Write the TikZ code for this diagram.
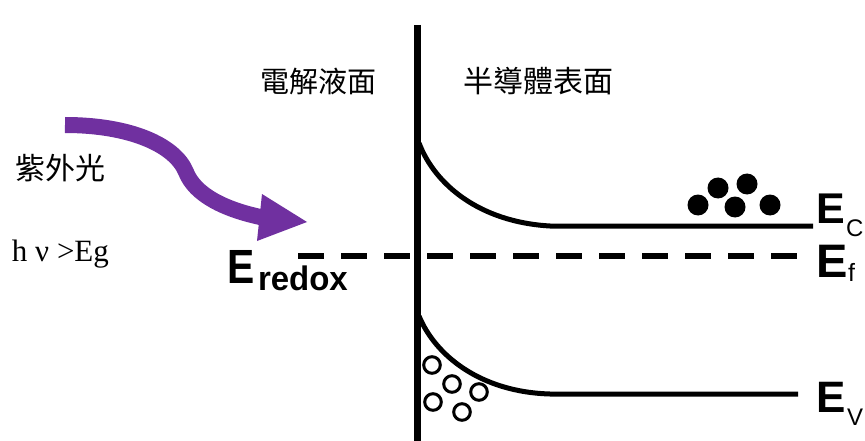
\documentclass[tikz,border=0pt]{standalone}
\usepackage{graphicx}
\usepackage{fontspec}
\setmainfont{Liberation Serif}
\newfontfamily\cjk{Noto Sans CJK TC}
\newfontfamily\arial{Liberation Sans}
\definecolor{uvpurple}{RGB}{112,48,160}
\begin{document}
\begin{tikzpicture}[x=1pt,y=-1pt,
  band/.style={line width=5pt},
  lbl/.style={inner sep=0pt, outer sep=0pt},
  bigE/.style={lbl, anchor=base west, font=\arial\bfseries\fontsize{#1}{#1}\selectfont},
  subE/.style={lbl, anchor=base west, font=\arial\fontsize{#1}{#1}\selectfont},
  electron/.style={fill=black},
  hole/.style={draw=black, line width=3pt},
  cjklbl/.style={lbl, font=\cjk\fontsize{#1}{#1}\selectfont}]
\clip (0,0) rectangle (865,441);
\fill[white] (0,0) rectangle (865,441);

% interface line
\coordinate (vtop) at (417,25);
\coordinate (vbot) at (417,445);
\draw[line width=7pt] (vtop) -- (vbot);

% conduction band
\coordinate (ecs) at (419,143);
\coordinate (ecf) at (550,226);
\coordinate (ece) at (813,226);
\draw[band] (ecs) .. controls (435,185) and (480,222) .. (ecf) -- (ece);

% valence band
\coordinate (evs) at (419,316);
\coordinate (evf) at (550,394);
\coordinate (eve) at (798,394);
\draw[band] (evs) .. controls (435,355) and (480,392) .. (evf) -- (eve);

% Fermi / redox level
\coordinate (efs) at (298,256);
\coordinate (efe) at (800,256);
\draw[line width=6pt, dash pattern=on 26pt off 17pt] (efs) -- (efe);

% electrons
\foreach \p in {(698,205),(718,188),(747,184),(735,207),(770,205)}
  \fill[electron] \p circle[radius=10.5pt];

% holes
\foreach \p in {(432,365),(452,384),(433,402),(462,412),(479,392)}
  \draw[hole] \p circle[radius=8.3pt];

% UV arrow
\coordinate (uvs) at (65,125);
\coordinate (uve) at (265,218);
\draw[uvpurple, line width=16pt] (uvs) .. controls (130,125) and (175,145) .. (186,172)
  .. controls (195,195) and (225,210) .. (uve);
\fill[uvpurple] (262,194) -- (307,222) -- (257,241) -- cycle;

% labels
\node[cjklbl=29] (elec) at (318,81) {電解液面};
\node[cjklbl=30] (semi) at (538,81) {半導體表面};
\node[cjklbl=30] (uv) at (61,168) {紫外光};
\node[lbl, anchor=base west, font=\fontsize{31}{31}\selectfont] (hv) at (12,261) {h ν >Eg};

\node[bigE=43] (Ec) at (816,223) {E};
\node[subE=24] (Ecsub) at (846,236) {C};
\node[bigE=47] (Ef) at (816,277) {E};
\node[subE=25] (Efsub) at (848,281) {f};
\node[bigE=44] (Ev) at (816,412) {E};
\node[subE=24] (Evsub) at (847,425) {V};

\node[lbl, anchor=base west, font=\arial\bfseries\fontsize{48}{48}\selectfont] (Er) at (227,283) {\scalebox{0.85}[1]{E}};
\node[lbl, anchor=base west, font=\arial\bfseries\fontsize{34}{34}\selectfont] (Ersub) at (258,290) {\scalebox{0.97}[1]{redox}};
\end{tikzpicture}
\end{document}
